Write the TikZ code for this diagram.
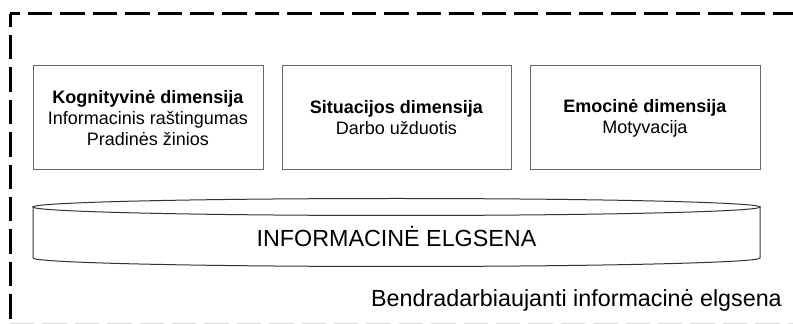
\documentclass[tikz,border=0pt]{standalone}
\usepackage{fontspec}
\setmainfont{Liberation Sans}
\begin{document}
\begin{tikzpicture}[x=1pt,y=1pt,
  frameline/.style={line width=3pt,black,dash pattern=on 24.4pt off 8pt},
  dimbox/.style={draw=black!60,line width=1pt,minimum width=230pt,minimum height=104pt,
    align=center,inner sep=0pt,font=\fontsize{18}{21}\selectfont},
  cylline/.style={draw=black!80,line width=1pt,fill=white},
  bigtext/.style={font=\fontsize{23.3}{27}\selectfont,inner sep=0pt}]
\useasboundingbox (0,0) rectangle (793,324);
\begin{scope}
\clip (0,0) rectangle (793,324);
\draw[frameline,dash phase=14.4pt] (10,310) -- (800,310);
\draw[frameline,dash phase=11.4pt] (10,310) -- (10,-2);
\draw[frameline,black!15,line width=1pt] (10,0.3) -- (800,0.3);
\end{scope}
\node[dimbox] (kog) at (148,206) {\textbf{Kognityvinė dimensija}\\Informacinis raštingumas\\Pradinės žinios};
\node[dimbox,minimum width=229pt] (sit) at (396.5,206) {\textbf{Situacijos dimensija}\\Darbo užduotis};
\node[dimbox] (emo) at (645,206) {\textbf{Emocinė dimensija}\\Motyvacija};
\path[cylline] (33,117) -- (33,66) arc[start angle=180,end angle=360,x radius=363.5pt,y radius=8.5pt] -- (760,117) -- cycle;
\draw[cylline] (396.5,117) ellipse [x radius=363.5pt,y radius=8.5pt];
\node[bigtext] (info) at (396.5,87) {INFORMACINĖ ELGSENA};
\node[bigtext,anchor=base east] (bendr) at (782,17) {Bendradarbiaujanti informacinė elgsena};
\end{tikzpicture}
\end{document}
